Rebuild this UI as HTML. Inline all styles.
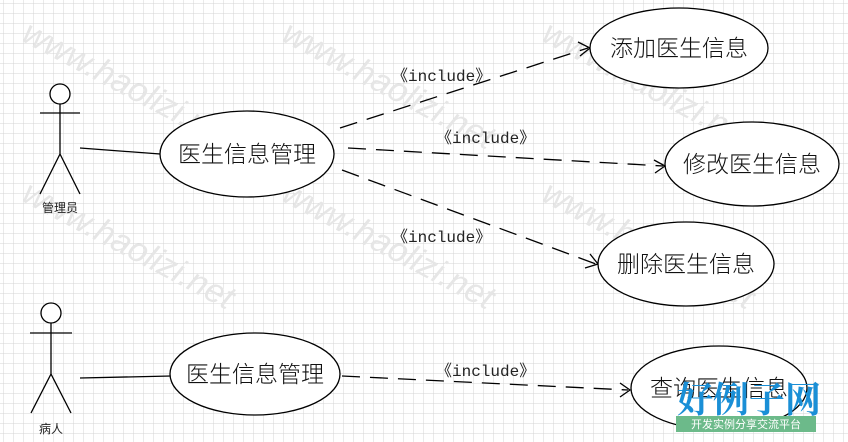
<!DOCTYPE html>
<html><head><meta charset="utf-8"><style>
html,body{margin:0;padding:0;background:#fff}
svg{display:block}
text{font-family:"Liberation Sans","Noto Sans CJK SC",sans-serif}
</style></head><body>
<svg width="848" height="442" viewBox="0 0 848 442" xmlns="http://www.w3.org/2000/svg">
<defs>
<pattern id="g" width="10" height="10" patternUnits="userSpaceOnUse" x="3" y="3">
<path d="M10 0H0V10" fill="none" stroke="#d4d4d4" stroke-width="1"/>
</pattern>
</defs>
<rect width="848" height="442" fill="#fff"/>
<rect width="848" height="442" fill="url(#g)"/>
<g fill="#e6e6e6" font-size="34" font-style="italic">
<text x="20" y="40" transform="rotate(28 20 40)">www.haolizi.net</text>
<text x="280" y="40" transform="rotate(28 280 40)">www.haolizi.net</text>
<text x="540" y="40" transform="rotate(28 540 40)">www.haolizi.net</text>
<text x="20" y="200" transform="rotate(28 20 200)">www.haolizi.net</text>
<text x="280" y="200" transform="rotate(28 280 200)">www.haolizi.net</text>
<text x="540" y="200" transform="rotate(28 540 200)">www.haolizi.net</text>
</g>
<g stroke="#000" stroke-width="1.3" fill="none">
<circle cx="60" cy="94" r="10" fill="#fff"/>
<path d="M40 113H80M60 104V154L40 194M60 154L80 194"/>
<circle cx="51" cy="313" r="10" fill="#fff"/>
<path d="M30 333H72M51 323V374L31 413M51 374L71 413"/>
<path d="M80 148L160 154M80 378L171 376"/>
<g stroke-dasharray="18,10">
<path d="M340 128L588 48"/>
<path d="M348 148L663 166"/>
<path d="M342 170L596 264"/>
<path d="M342 376L628 390"/>
</g>
<path d="M578 42L590 48L580 56"/>
<path d="M654 160L665 166L655 173"/>
<path d="M590 254L598 264L585 268"/>
<path d="M620 383L630 390L620 397"/>
<g fill="#fff">
<ellipse cx="247" cy="154" rx="87" ry="43"/>
<ellipse cx="679" cy="48" rx="89" ry="40"/>
<ellipse cx="752" cy="164" rx="87" ry="42"/>
<ellipse cx="686" cy="264" rx="88" ry="42"/>
<ellipse cx="255" cy="374" rx="85" ry="41"/>
<ellipse cx="719" cy="388" rx="88" ry="42"/>
</g>
</g>
<g font-size="23" text-anchor="middle" fill="#111" style="font-weight:300">
<text x="247" y="162">医生信息管理</text>
<text x="679" y="56">添加医生信息</text>
<text x="752" y="172">修改医生信息</text>
<text x="686" y="272">删除医生信息</text>
<text x="255" y="382">医生信息管理</text>
<text x="719" y="396">查询医生信息</text>
</g>
<g font-size="12" text-anchor="middle" fill="#222">
<text x="60" y="212">管理员</text>
<text x="51" y="433">病人</text>
</g>
<g font-size="16" fill="#222">
<text x="392" y="81" style="font-family:'Liberation Mono','Noto Sans CJK SC',monospace">《include》</text>
<text x="436" y="143" style="font-family:'Liberation Mono','Noto Sans CJK SC',monospace">《include》</text>
<text x="392" y="242" style="font-family:'Liberation Mono','Noto Sans CJK SC',monospace">《include》</text>
<text x="436" y="376" style="font-family:'Liberation Mono','Noto Sans CJK SC',monospace">《include》</text>
</g>
<text x="677" y="412" font-size="36" font-weight="bold" fill="#1a8fd6" style="font-family:'Noto Serif CJK SC',serif">好例子网</text>
<rect x="676" y="416" width="140" height="16" fill="#6cba8a"/>
<text x="746" y="428" font-size="11" fill="#fff" text-anchor="middle">开发实例分享交流平台</text>
</svg>
</body></html>
